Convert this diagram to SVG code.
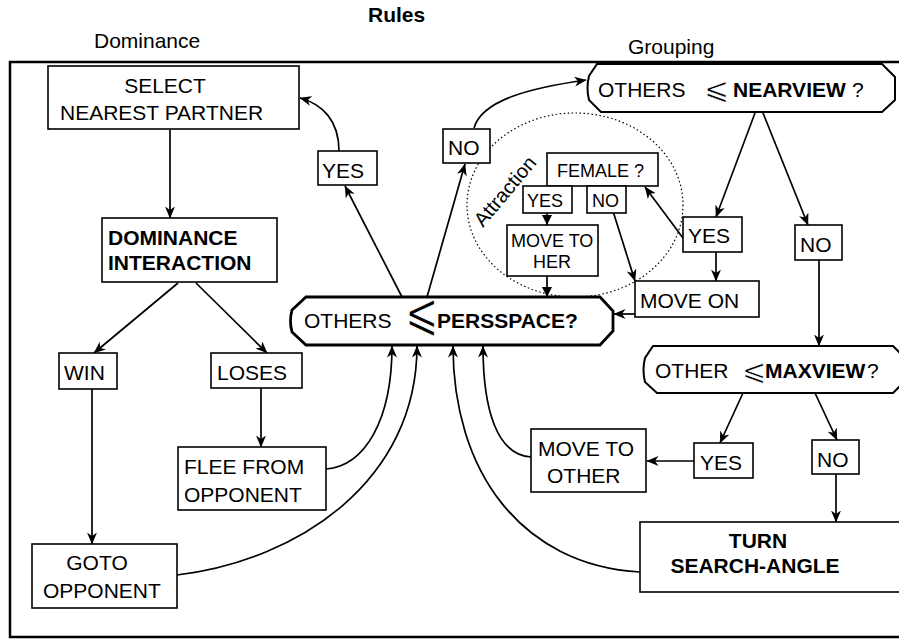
<svg xmlns="http://www.w3.org/2000/svg" width="899" height="640" viewBox="0 0 899 640">
<style>
text{font-family:"Liberation Sans",Arial,sans-serif;font-size:21px;fill:#000}
.s{font-size:18px}
.b{font-weight:bold}
.sym{font-family:"DejaVu Sans ExtraLight","DejaVu Sans",sans-serif;font-weight:200;stroke:#fff;stroke-width:0.7}
.box{fill:#fff;stroke:#000;stroke-width:1.6}
.oct{fill:#fff;stroke:#000;stroke-width:2}
.thick{stroke-width:2.8}
.c path{fill:none;stroke:#000;stroke-width:1.7;marker-end:url(#a)}
.c path.t{marker-end:url(#t)}
</style>
<defs>
<marker id="a" viewBox="0 0 12 10" refX="11.5" refY="5" markerWidth="12" markerHeight="10" markerUnits="userSpaceOnUse" orient="auto"><path d="M0,0 L12,5 L0,10 L3.5,5 z" fill="#000"/></marker>
<marker id="t" viewBox="0 0 10 10" refX="10" refY="5" markerWidth="10" markerHeight="10" markerUnits="userSpaceOnUse" orient="auto"><path d="M0,0 L10,5 L0,10 z" fill="#000"/></marker>
</defs>
<rect width="899" height="640" fill="#fff"/>
<text class="b" x="368" y="22">Rules</text>
<text x="94" y="48">Dominance</text>
<text x="628" y="54">Grouping</text>
<path d="M899,62 H10 V637 H899" fill="none" stroke="#000" stroke-width="2.5"/>
<ellipse cx="575" cy="205" rx="108" ry="92" fill="none" stroke="#000" stroke-width="1.2" stroke-dasharray="1.5,2.5"/>
<text x="483" y="228" style="font-size:20px" transform="rotate(-50 483 228)">Attraction</text>
<g class="c">
<path d="M170,130 V218"/>
<path d="M178,283 L94,353"/>
<path d="M196,283 L267,353"/>
<path d="M92,389 V544"/>
<path d="M261,388 V447"/>
<path d="M326,469 C365,466 392,420 392,346"/>
<path d="M177,575 C300,560 417,480 417,346"/>
<path d="M531,457 C497,455 483,410 483,346"/>
<path d="M640,572 C520,565 453,470 453,346"/>
<path d="M402,297 L345,186"/>
<path d="M339,151 C339,120 322,104 300,98"/>
<path d="M427,297 L465,164"/>
<path d="M474,128 C482,100 530,88 586,80"/>
<path d="M755,113 L716,217"/>
<path d="M763,113 L808,225"/>
<path d="M683,238 L645,187"/>
<path d="M716,252 V281"/>
<path d="M635,314 H614"/>
<path d="M819,260 V346"/>
<path d="M743,393 L720,443"/>
<path d="M815,393 L837,440"/>
<path d="M694,461 H647"/>
<path d="M836,474 V522"/>
<path class="t" d="M547,213 V225"/>
<path class="t" d="M547,276 V297"/>
<path d="M612,208 L635,281"/>
</g>
<g id="select"><rect class="box" x="48" y="66" width="251" height="63"/><text x="165" y="93" text-anchor="middle">SELECT</text><text x="60" y="120">NEAREST PARTNER</text></g>
<g id="dominance"><rect class="box" x="102" y="218" width="175" height="64"/><text class="b" x="108" y="245">DOMINANCE</text><text class="b" x="108" y="270">INTERACTION</text></g>
<g id="win"><rect class="box" x="59" y="353" width="58" height="36"/><text x="64" y="380">WIN</text></g>
<g id="loses"><rect class="box" x="211" y="353" width="91" height="35"/><text x="217" y="380">LOSES</text></g>
<g id="flee"><rect class="box" x="178" y="447" width="148" height="63"/><text x="184" y="474">FLEE FROM</text><text x="184" y="502">OPPONENT</text></g>
<g id="goto"><rect class="box" x="32" y="544" width="145" height="64"/><text x="97" y="570" text-anchor="middle">GOTO</text><text x="43" y="598">OPPONENT</text></g>
<g id="persspace"><path class="oct thick" d="M306,297 H600 L613,311 V331 L600,345 H306 L292,332 Q289,321 292,310 Z"/><text x="304" y="328">OTHERS</text><text class="sym" x="405" y="331" transform="translate(0,-100) scale(1,1.3)" style="font-size:40px">⩽</text><text class="b" x="437" y="328">PERSSPACE?</text></g>
<g id="yes1"><rect class="box" x="318" y="151" width="59" height="34"/><text x="322" y="178">YES</text></g>
<g id="no1"><rect class="box" x="443" y="129" width="47" height="34"/><text x="448" y="155">NO</text></g>
<g id="nearview"><path class="oct" d="M597,64 H882 L895,77 V100 L882,112 H601 L589,100 Q586,88 589,76 Z"/><text x="598" y="97">OTHERS</text><text class="sym" x="704" y="99" style="font-size:30px">⩽</text><text class="b" x="733" y="97">NEARVIEW</text><text x="852" y="97">?</text></g>
<g id="female"><rect class="box" x="547" y="153" width="111" height="33"/><text class="s" x="557" y="177">FEMALE ?</text></g>
<g id="yes2"><rect class="box" x="523" y="186" width="49" height="27"/><text class="s" x="527" y="207">YES</text></g>
<g id="no2"><rect class="box" x="587" y="186" width="39" height="27"/><text class="s" x="592" y="207">NO</text></g>
<g id="movetoher"><rect class="box" x="507" y="225" width="91" height="51"/><text class="s" x="511" y="247">MOVE TO</text><text class="s" x="552" y="268" text-anchor="middle">HER</text></g>
<g id="yes3"><rect class="box" x="683" y="217" width="59" height="35"/><text x="688" y="243">YES</text></g>
<g id="no3"><rect class="box" x="795" y="225" width="47" height="35"/><text x="800" y="252">NO</text></g>
<g id="moveon"><rect class="box" x="635" y="281" width="124" height="36"/><text x="640" y="308">MOVE ON</text></g>
<g id="maxview"><path class="oct" d="M653,346 H893 L905,358 V381 L893,393 H657 L645,382 Q642,370 645,358 Z"/><text x="655" y="378">OTHER</text><text class="sym" x="742" y="380" style="font-size:29px">⩽</text><text class="b" x="765" y="378">MAXVIEW</text><text x="867" y="378">?</text></g>
<g id="yes4"><rect class="box" x="694" y="443" width="59" height="35"/><text x="700" y="470">YES</text></g>
<g id="no4"><rect class="box" x="812" y="440" width="47" height="34"/><text x="817" y="467">NO</text></g>
<g id="movetoother"><rect class="box" x="531" y="429" width="115" height="63"/><text x="538" y="456">MOVE TO</text><text x="547" y="483">OTHER</text></g>
<g id="turn"><rect class="box" x="640" y="522" width="264" height="70"/><text class="b" x="758" y="548" text-anchor="middle">TURN</text><text class="b" x="755" y="573" text-anchor="middle">SEARCH-ANGLE</text></g>
</svg>
